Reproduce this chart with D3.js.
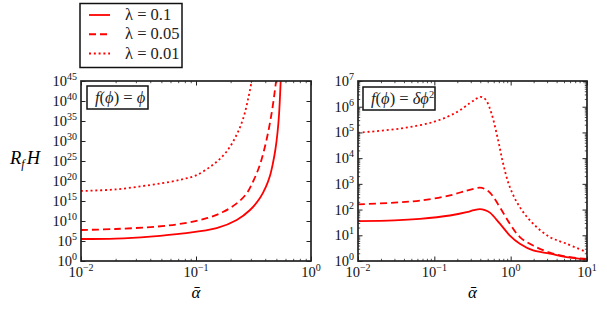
<!DOCTYPE html>
<html>
<head>
<meta charset="utf-8">
<script src="https://cdn.jsdelivr.net/npm/d3@7"></script>
<style>
  body { margin: 0; background: #fff; }
</style>
</head>
<body>
<svg id="chart" width="607" height="312"></svg>
<script>
"use strict";

// legend entries
const lambdas = ["0.1", "0.05", "0.01"];
const dashes = [null, "7,4", "2,2.8"];

// left panel, f(phi) = phi : alpha values and log10(R_f H)
const leftSolidX = [0.01, 0.02, 0.04, 0.078, 0.151, 0.226, 0.295, 0.361, 0.406, 0.44, 0.467, 0.491, 0.511, 0.527, 0.545];
const leftSolidLog = [5.5, 5.6, 6.1, 6.9, 8.2, 10.25, 12.75, 15.8, 18.6, 21.3, 24.5, 28, 32, 36.5, 45];
const leftDashX = [0.01, 0.02, 0.0455, 0.0776, 0.124, 0.173, 0.226, 0.276, 0.315, 0.361, 0.412, 0.455, 0.482, 0.497];
const leftDashLog = [7.75, 8.0, 8.6, 9.4, 10.7, 12.3, 14.4, 16.9, 20.0, 24.2, 30.5, 37, 42, 45];
const leftDotX = [0.01, 0.02, 0.04, 0.06, 0.078, 0.1, 0.141, 0.185, 0.226, 0.258, 0.285, 0.305];
const leftDotLog = [17.5, 17.9, 19, 19.8, 20.5, 21.4, 24.1, 27.4, 31.6, 35.75, 40.75, 45];

// right panel, f(phi) = delta phi^2
const rightSolidX = [0.01, 0.03, 0.0648, 0.16, 0.265, 0.33, 0.395, 0.46, 0.535, 0.723, 0.976, 1.32, 1.97, 3.26, 5.39, 10];
const rightSolidLog = [1.55, 1.58, 1.64, 1.77, 1.9, 1.98, 2.02, 1.98, 1.88, 1.45, 0.99, 0.67, 0.41, 0.29, 0.15, 0.06];
const rightDashX = [0.01, 0.03, 0.0648, 0.16, 0.265, 0.33, 0.395, 0.46, 0.535, 0.723, 0.976, 1.32, 1.97, 3.26, 5.39, 10];
const rightDashLog = [2.2, 2.27, 2.35, 2.55, 2.74, 2.81, 2.85, 2.8, 2.66, 2.09, 1.45, 0.93, 0.6, 0.33, 0.17, 0.08];
const rightDotX = [0.01, 0.0354, 0.1, 0.2, 0.292, 0.35, 0.395, 0.44, 0.484, 0.562, 0.686, 0.798, 0.976, 1.32, 1.97, 3.26, 5.39, 10];
const rightDotLog = [4.99, 5.15, 5.42, 5.8, 6.14, 6.3, 6.38, 6.35, 6.22, 5.73, 4.69, 3.78, 2.87, 2.09, 1.45, 0.93, 0.67, 0.34];

// tick exponents
const leftXExp = [-2, -1, 0];
const leftYExp = [0, 5, 10, 15, 20, 25, 30, 35, 40, 45];
const rightXExp = [-2, -1, 0, 1];
const rightYExp = [0, 1, 2, 3, 4, 5, 6, 7];

const red = "#ff0000";
const frame = "#222";
const serif = '"Liberation Serif", "DejaVu Serif", serif';
const svg = d3.select("#chart");

function txt(g) {
  return g.append("text").style("font-family", serif);
}

function minorTicks(lo, hi) {
  const out = [];
  for (let e = lo; e < hi; e++) {
    for (let k = 2; k <= 9; k++) out.push(k * Math.pow(10, e));
  }
  return out;
}

function powLabel(g, x, y, exp, anchor) {
  const t = txt(g)
    .attr("x", x)
    .attr("y", y)
    .attr("text-anchor", anchor)
    .attr("font-size", "14.5px")
    .attr("fill", "#111")
    .text("10");
  t.append("tspan")
    .attr("dy", -6)
    .attr("font-size", "10px")
    .text(exp < 0 ? "\u2212" + -exp : exp);
}

function panel(opts) {
  const { left, right, top, bottom, xExp, yExp, yMinor, series, id } = opts;
  const x = d3.scaleLog()
    .domain([Math.pow(10, xExp[0]), Math.pow(10, xExp[xExp.length - 1])])
    .range([left, right]);
  const y = d3.scaleLog()
    .domain([Math.pow(10, yExp[0]), Math.pow(10, yExp[yExp.length - 1])])
    .range([bottom, top]);

  const xMaj = xExp.map((e) => Math.pow(10, e));
  const yMaj = yExp.map((e) => Math.pow(10, e));
  const xMin = minorTicks(xExp[0], xExp[xExp.length - 1]);
  const yMin = yMinor ? minorTicks(yExp[0], yExp[yExp.length - 1]) : [];

  const g = svg.append("g");

  g.append("clipPath").attr("id", id)
    .append("rect")
    .attr("x", left).attr("y", top)
    .attr("width", right - left).attr("height", bottom - top);

  // curves
  const line = d3.line()
    .x((d) => x(d[0]))
    .y((d) => y(Math.pow(10, d[1])))
    .curve(d3.curveCatmullRom.alpha(0.5));

  series.forEach((s, i) => {
    g.append("path")
      .datum(d3.zip(s.x, s.v))
      .attr("clip-path", `url(#${id})`)
      .attr("fill", "none")
      .attr("stroke", red)
      .attr("stroke-width", 1.8)
      .attr("stroke-dasharray", dashes[i])
      .attr("d", line);
  });

  // inward ticks on all four sides
  const axes = [
    [d3.axisBottom(x), `translate(0,${bottom})`, xMaj, xMin],
    [d3.axisTop(x), `translate(0,${top})`, xMaj, xMin],
    [d3.axisLeft(y), `translate(${left},0)`, yMaj, yMin],
    [d3.axisRight(y), `translate(${right},0)`, yMaj, yMin],
  ];
  axes.forEach(([ax, tr, maj, min]) => {
    g.append("g").attr("transform", tr)
      .call(ax.tickValues(maj).tickSize(-4.5).tickFormat(""))
      .call((a) => a.select(".domain").remove())
      .selectAll("line").attr("stroke", frame).attr("stroke-width", 1);
    if (min.length) {
      g.append("g").attr("transform", tr)
        .call(ax.tickValues(min).tickSize(-2.2).tickFormat(""))
        .call((a) => a.select(".domain").remove())
        .selectAll("line").attr("stroke", frame).attr("stroke-width", 0.8);
    }
  });

  g.append("rect")
    .attr("x", left).attr("y", top)
    .attr("width", right - left).attr("height", bottom - top)
    .attr("fill", "none")
    .attr("stroke", frame)
    .attr("stroke-width", 1.7);

  // tick labels
  xExp.forEach((e) => powLabel(g, x(Math.pow(10, e)), bottom + 16, e, "middle"));
  yExp.forEach((e) => powLabel(g, left - 4, y(Math.pow(10, e)) + 5, e, "end"));

  // x axis title
  txt(g)
    .attr("x", (left + right) / 2)
    .attr("y", 298)
    .attr("text-anchor", "middle")
    .attr("font-size", "17px")
    .attr("font-style", "italic")
    .text("\u03b1\u0304");

  return g;
}

const leftPanel = panel({
  id: "clipL", left: 81, right: 311, top: 81, bottom: 261,
  xExp: leftXExp, yExp: leftYExp, yMinor: false,
  series: [
    { x: leftSolidX, v: leftSolidLog },
    { x: leftDashX, v: leftDashLog },
    { x: leftDotX, v: leftDotLog },
  ],
});

const rightPanel = panel({
  id: "clipR", left: 358, right: 587, top: 81, bottom: 261,
  xExp: rightXExp, yExp: rightYExp, yMinor: true,
  series: [
    { x: rightSolidX, v: rightSolidLog },
    { x: rightDashX, v: rightDashLog },
    { x: rightDotX, v: rightDotLog },
  ],
});

// boxed formula labels
function formulaBox(g, bx, by, bw, parts) {
  g.append("rect")
    .attr("x", bx).attr("y", by)
    .attr("width", bw).attr("height", 23)
    .attr("fill", "#fff")
    .attr("stroke", "#111")
    .attr("stroke-width", 1.5);
  const t = txt(g)
    .attr("x", bx + 8).attr("y", by + 16.5)
    .attr("font-size", "16.5px")
    .attr("fill", "#222");
  parts.forEach(([s, it, sup]) => {
    const sp = t.append("tspan").text(s);
    if (it) sp.attr("font-style", "italic");
    if (sup) sp.attr("dy", -6).attr("font-size", "10.5px");
  });
}

formulaBox(leftPanel, 87, 86, 61, [
  ["f", true], ["(", false], ["\u03d5", true], [") = ", false], ["\u03d5", true],
]);
formulaBox(rightPanel, 363, 87, 72, [
  ["f", true], ["(", false], ["\u03d5", true], [") = ", false], ["\u03b4\u03d5", true], ["2", false, true],
]);

// y axis title R_f H
const yTitle = txt(svg)
  .attr("x", 10).attr("y", 164)
  .attr("font-size", "18.5px")
  .attr("font-style", "italic");
yTitle.append("tspan").text("R");
yTitle.append("tspan").attr("dy", 4).attr("font-size", "12px").text("f");
yTitle.append("tspan").attr("dy", -4).attr("dx", 2).text("H");

// legend
const legend = svg.append("g");
legend.append("rect")
  .attr("x", 80).attr("y", 3.5)
  .attr("width", 102).attr("height", 64)
  .attr("fill", "#fff")
  .attr("stroke", "#111")
  .attr("stroke-width", 1.5);

const rowY = d3.scalePoint().domain(lambdas).range([15, 53.5]);
lambdas.forEach((lam, i) => {
  legend.append("line")
    .attr("x1", 89).attr("x2", 110)
    .attr("y1", rowY(lam)).attr("y2", rowY(lam))
    .attr("stroke", red)
    .attr("stroke-width", 1.8)
    .attr("stroke-dasharray", dashes[i]);
  txt(legend)
    .attr("x", 125).attr("y", rowY(lam) + 5)
    .attr("font-size", "16.5px")
    .attr("fill", "#222")
    .text("\u03bb = " + lam);
});
</script>
</body>
</html>
